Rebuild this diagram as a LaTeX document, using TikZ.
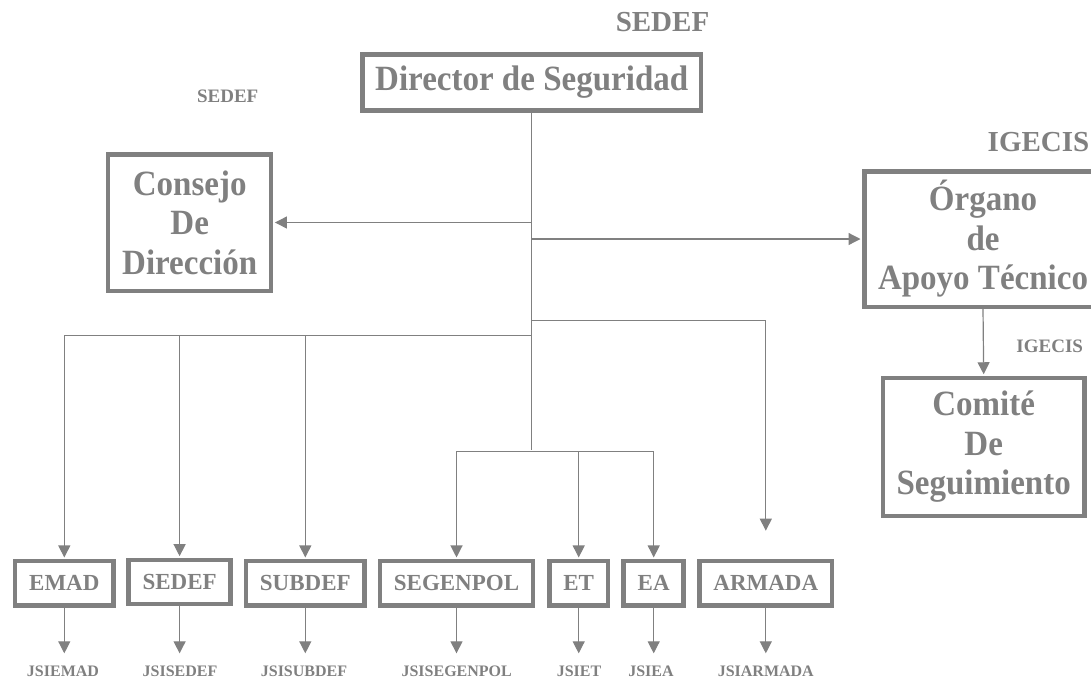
\documentclass[tikz,border=0pt]{standalone}
\usepackage{fontspec}
\setmainfont{Liberation Serif}
\newfontfamily\orgfont[FakeStretch=0.93]{Liberation Serif}
\usetikzlibrary{arrows.meta}
\definecolor{orggray}{RGB}{128,128,128}
\begin{document}
\begin{tikzpicture}[x=1pt, y=-1pt,
    bigbox/.style={draw=orggray, line width=4.5pt, text=orggray, align=center, inner sep=0pt,
      font=\orgfont\bfseries\fontsize{35.5}{39.5}\selectfont},
    unitbox/.style={draw=orggray, line width=4.5pt, text=orggray, inner xsep=14pt, inner ysep=0pt,
      minimum height=44.2pt, font=\bfseries\fontsize{23}{27}\selectfont},
    tag/.style={text=orggray, inner sep=0pt, font=\bfseries\fontsize{#1}{#1}\selectfont},
    link/.style={draw=orggray, line width=1.2pt, -{Triangle[length=12pt,width=12pt]}, shorten >=1.5pt}]
  \clip (0, 0) rectangle (1091, 678);

  % Director
  \node[bigbox, minimum width=338.9pt, minimum height=55.9pt] (dir) at (531.7, 82.5) {Director de Seguridad};
  \node[tag=29] (dirtag) at (662.5, 21.7) {SEDEF};

  % Consejo
  \node[bigbox, minimum width=163pt, minimum height=136.5pt] (consejo) at (189.7, 222.5) {Consejo\\De\\Dirección};
  \node[tag=19] (consejotag) at (227.7, 96.3) {SEDEF};

  % Organo / Comite
  \node[bigbox, minimum width=237.5pt, minimum height=135.5pt] (organo) at (983, 239) {Órgano\\de\\Apoyo Técnico};
  \node[tag=29] (organotag) at (1038.5, 142.4) {IGECIS};
  \node[bigbox, minimum width=201.5pt, minimum height=137.8pt] (comite) at (983.7, 446.9) {Comité\\De\\Seguimiento};
  \node[tag=19] (comitetag) at (1049.7, 345.9) {IGECIS};

  % units
  \node[unitbox] (emad) at (64.3, 583.3) {EMAD};
  \node[unitbox] (sedef) at (179.6, 582) {SEDEF};
  \node[unitbox] (subdef) at (305.3, 583.3) {SUBDEF};
  \node[unitbox] (segenpol) at (456.5, 583.3) {SEGENPOL};
  \node[unitbox] (et) at (578.7, 583.3) {ET};
  \node[unitbox] (ea) at (653.7, 583.3) {EA};
  \node[unitbox] (armada) at (765.8, 583.3) {ARMADA};

  % JSI
  \node[tag=16] (jemad) at (63, 671.4) {JSIEMAD};
  \node[tag=16] (jsedef) at (180, 671.4) {JSISEDEF};
  \node[tag=16] (jsubdef) at (304, 671.4) {JSISUBDEF};
  \node[tag=16] (jsegenpol) at (456.7, 671.4) {JSISEGENPOL};
  \node[tag=16] (jet) at (579, 671.4) {JSIET};
  \node[tag=16] (jea) at (651, 671.4) {JSIEA};
  \node[tag=16] (jarmada) at (765.8, 671.4) {JSIARMADA};

  % splits
  \coordinate (asplit) at (531.7, 320.7);
  \coordinate (lsplit) at (531.7, 335.7);
  \coordinate (msplit) at (531.7, 451.7);
  \coordinate (armtip) at (765.8, 530.7);

  % trunk
  \draw[link, -] (dir.south) -- (msplit);
  \draw[link] (dir.south |- consejo.east) -- (consejo.east);
  \draw[link] (dir.south |- organo.west) -- (organo.west);
  \draw[link] (organo.south) -- (comite.north);
  \draw[link, shorten >=0pt] (asplit) -| (armtip);
  \foreach \u in {emad, sedef, subdef}
    \draw[link] (lsplit) -| (\u.north);
  \foreach \u in {segenpol, et, ea}
    \draw[link] (msplit) -| (\u.north);

  % down to JSI
  \foreach \u/\j in {emad/jemad, sedef/jsedef, subdef/jsubdef, segenpol/jsegenpol, et/jet, ea/jea, armada/jarmada}
    \draw[link, shorten >=12.5pt] (\u.south) -- (\u.south |- \j.north);
\end{tikzpicture}
\end{document}
